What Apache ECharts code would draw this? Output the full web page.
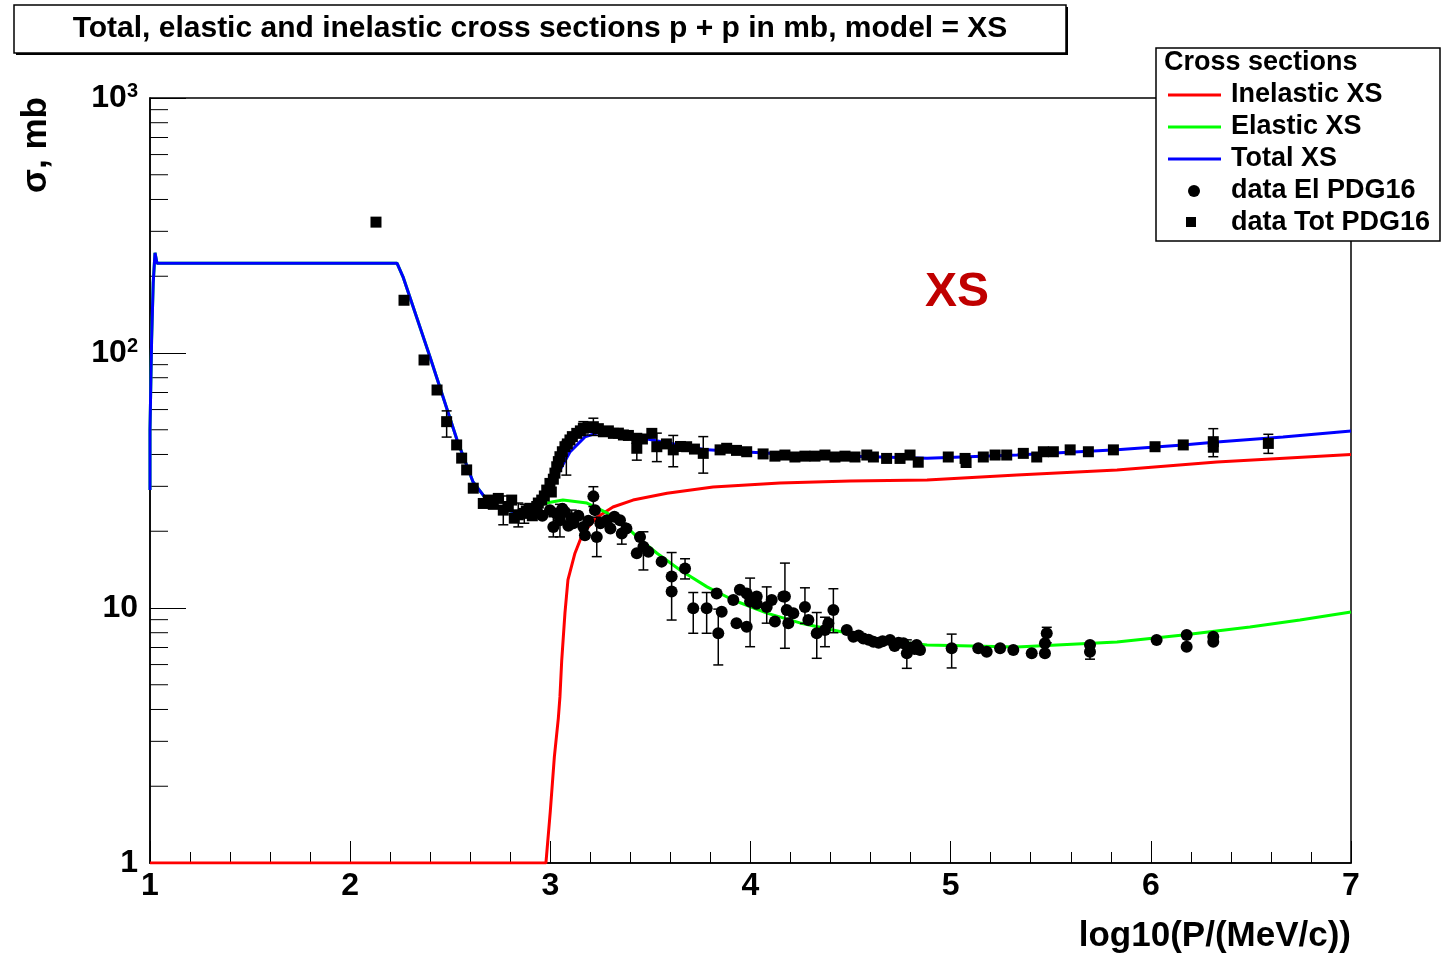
<!DOCTYPE html>
<html><head><meta charset="utf-8">
<script src="https://cdn.jsdelivr.net/npm/echarts@6/dist/echarts.min.js"></script>
<style>html,body{margin:0;padding:0;background:#fff}#c{width:1445px;height:959px}</style>
</head><body><div id="c"></div>
<script>
// ---- tick definitions ----
const xTicks = [1, 2, 3, 4, 5, 6, 7];
const yTickLabels = {1: '1', 10: '10', 100: '10{sup|2}', 1000: '10{sup|3}'};
const yMinorTicks = [2,3,4,5,6,7,8,9,20,30,40,50,60,70,80,90,200,300,400,500,600,700,800,900];

// ---- model curves [log10(P), sigma mb] ----
const inelasticXS = [[1,1],[2.978,1],[3.0,1.6],[3.02,2.6],[3.04,3.7],[3.048,4.48],[3.057,6.25],[3.073,9.55],[3.088,12.9],[3.123,16.4],[3.163,19.7],[3.233,22.7],[3.313,24.9],[3.413,26.5],[3.583,28.2],[3.813,29.8],[4.147,30.9],[4.497,31.5],[4.882,31.8],[5.331,33.2],[5.831,34.8],[6.330,37.4],[7.0,40.0]];
const elasticXS = [[1.0,29],[1.0,50],[1.008,50],[1.008,112],[1.013,112],[1.016,188],[1.025,247],[1.035,225],[2.234,225],[2.264,199],[2.399,96.5],[2.534,45.6],[2.614,31.2],[2.684,26.5],[2.749,24.6],[2.848,23.5],[2.948,25.3],[3.0,26.0],[3.063,26.5],[3.183,25.8],[3.283,23.6],[3.363,21.5],[3.433,19.0],[3.533,16.4],[3.648,14.1],[3.783,12.1],[3.913,10.75],[4.082,9.55],[4.247,8.74],[4.482,7.98],[4.647,7.49],[4.882,7.16],[5.331,7.03],[5.831,7.36],[6.161,7.84],[6.495,8.42],[6.745,8.97],[7.0,9.64]];
const totalXS = [[1.0,29],[1.0,50],[1.008,50],[1.008,112],[1.013,112],[1.016,188],[1.025,247],[1.035,225],[2.234,225],[2.264,199],[2.399,96.5],[2.534,45.6],[2.614,31.2],[2.684,26.5],[2.749,24.6],[2.848,23.5],[2.948,25.3],[2.998,29.0],[3.048,34.8],[3.098,40.9],[3.173,46.9],[3.248,49.0],[3.348,48.3],[3.548,45.0],[3.783,41.7],[3.983,40.9],[4.247,39.8],[4.647,39.1],[4.882,38.7],[5.331,39.8],[5.831,41.7],[6.161,43.6],[6.330,44.8],[6.660,46.8],[7.0,49.4]];

// ---- PDG16 data points ----
const dataTotPDG16 = [[2.129,326],[2.269,161],[2.369,93.9],[2.434,71.6],[2.482,53.8],[2.532,43.6],[2.557,38.7],[2.582,34.8],[2.615,29.5],[2.665,25.7],[2.690,26.5],[2.715,25.5],[2.740,26.9],[2.765,24.2],[2.790,25.0],[2.807,26.5],[2.820,22.5],[2.840,23.2],[2.865,23.5],[2.880,24.0],[2.898,24.6],[2.910,23.0],[2.932,25.0],[2.940,25.8],[2.957,26.5],[2.970,27.5],[2.982,29.0],[2.998,30.8],[3.005,28.5],[3.015,32.0],[3.023,33.8],[3.032,35.8],[3.040,37.5],[3.048,39.2],[3.060,41.0],[3.073,42.9],[3.085,44.0],[3.098,45.6],[3.110,47.0],[3.132,48.4],[3.150,49.5],[3.165,50.7],[3.190,51.0],[3.215,51.4],[3.240,50.5],[3.265,49.1],[3.290,49.5],[3.315,48.4],[3.340,48.5],[3.365,47.7],[3.390,47.5],[3.432,46.3],[3.432,42.3],[3.460,46.0],[3.507,48.4],[3.532,42.9],[3.580,44.0],[3.614,41.7],[3.650,43.0],[3.681,42.9],[3.720,42.0],[3.764,40.4],[3.848,41.7],[3.881,42.3],[3.930,41.5],[3.981,41.0],[4.063,40.2],[4.122,39.4],[4.172,39.8],[4.222,39.1],[4.272,39.4],[4.322,39.4],[4.372,39.8],[4.422,39.1],[4.472,39.4],[4.522,39.1],[4.581,39.8],[4.614,39.1],[4.680,38.6],[4.747,38.6],[4.797,39.8],[4.838,37.3],[4.988,39.1],[5.072,38.6],[5.077,37.2],[5.163,39.1],[5.222,39.8],[5.280,39.8],[5.363,40.4],[5.430,39.1],[5.463,41.0],[5.513,41.0],[5.597,41.7],[5.688,41.0],[5.813,41.7],[6.021,42.9],[6.162,43.6],[6.312,44.9],[6.312,42.7],[6.587,44.2]];
const dataTotErr = [[2.482,46.8,59.3],[2.765,21.2,27.5],[2.840,20.8,25.8],[2.870,21.5,25.5],[3.080,33.2,45.0],[3.165,47.7,53.8],[3.215,47.5,55.5],[3.432,38.0,46.5],[3.532,37.5,48.5],[3.614,35.8,47.5],[3.764,33.8,47.0],[6.312,39.2,50.5],[6.587,40.4,48.0]];

const dataElPDG16 = [[2.932,24.2],[2.960,23.0],[2.998,24.2],[3.015,20.8],[3.030,23.5],[3.048,22.1],[3.060,24.5],[3.073,23.8],[3.090,21.0],[3.107,22.5],[3.115,21.5],[3.140,23.0],[3.165,20.8],[3.173,19.3],[3.190,22.0],[3.215,27.4],[3.223,24.2],[3.232,19.0],[3.250,21.5],[3.282,22.1],[3.300,20.5],[3.320,22.8],[3.348,22.1],[3.357,19.6],[3.380,20.5],[3.432,16.4],[3.448,19.0],[3.465,17.4],[3.490,16.6],[3.556,15.2],[3.606,13.3],[3.606,11.6],[3.673,14.3],[3.714,9.97],[3.781,9.97],[3.831,11.4],[3.839,7.96],[3.856,9.67],[3.914,10.75],[3.930,8.71],[3.947,11.8],[3.981,11.4],[3.981,8.44],[3.998,10.6],[4.031,11.1],[4.031,10.4],[4.081,10.1],[4.106,10.75],[4.122,8.86],[4.164,11.1],[4.172,11.1],[4.181,9.82],[4.189,8.71],[4.214,9.53],[4.272,10.1],[4.289,8.97],[4.331,7.96],[4.372,8.2],[4.389,8.71],[4.414,9.82],[4.481,8.20],[4.514,7.72],[4.540,7.8],[4.564,7.60],[4.590,7.5],[4.614,7.38],[4.640,7.3],[4.660,7.4],[4.697,7.49],[4.720,7.1],[4.740,7.3],[4.764,7.27],[4.781,6.64],[4.800,7.0],[4.820,6.9],[4.830,7.16],[4.847,6.84],[5.005,6.95],[5.138,6.95],[5.180,6.74],[5.247,6.95],[5.313,6.84],[5.405,6.64],[5.471,7.27],[5.471,6.64],[5.480,7.96],[5.696,7.16],[5.696,6.74],[6.029,7.49],[6.179,7.84],[6.179,7.05],[6.312,7.72],[6.312,7.38]];
const dataElErr = [[3.015,19.0,22.8],[3.048,19.0,25.5],[3.107,20.8,24.2],[3.215,25.0,29.9],[3.232,15.9,22.7],[3.357,17.8,21.5],[3.465,14.1,19.9],[3.606,8.97,16.5],[3.673,13.0,15.6],[3.714,7.96,11.5],[3.781,7.96,11.5],[3.839,5.98,9.9],[3.998,7.05,13.1],[4.081,8.72,12.1],[4.172,6.95,15.0],[4.272,8.7,12.0],[4.331,6.35,9.6],[4.372,7.05,9.2],[4.414,8.0,11.9],[4.781,5.80,7.5],[5.005,5.82,7.90],[5.480,7.3,8.4],[5.696,6.3,7.2]];

const FONT = '"Liberation Sans", Arial, Helvetica, sans-serif';

function errBars(params, api) {
  const x = api.value(0), lo = api.value(1), hi = api.value(2);
  const p1 = api.coord([x, lo]), p2 = api.coord([x, hi]);
  const cw = 5, st = {stroke: '#000', lineWidth: 1.5};
  return {type: 'group', children: [
    {type: 'line', shape: {x1: p1[0], y1: p1[1], x2: p2[0], y2: p2[1]}, style: st},
    {type: 'line', shape: {x1: p1[0]-cw, y1: p1[1], x2: p1[0]+cw, y2: p1[1]}, style: st},
    {type: 'line', shape: {x1: p2[0]-cw, y1: p2[1], x2: p2[0]+cw, y2: p2[1]}, style: st}
  ]};
}
function yMinor(params, api) {
  const p = api.coord([xTicks[0], api.value(1)]);
  return {type: 'line', shape: {x1: p[0], y1: p[1], x2: p[0]+18, y2: p[1]}, style: {stroke: '#000', lineWidth: 1}};
}

const chart = echarts.init(document.getElementById('c'), null, {renderer: 'canvas'});
chart.setOption({
  animation: false,
  backgroundColor: '#fff',
  grid: {left: 150, top: 98, width: 1201, height: 765, show: true, borderColor: '#000', borderWidth: 1.5, backgroundColor: 'transparent'},
  xAxis: {
    type: 'value', min: xTicks[0], max: xTicks[xTicks.length-1], interval: 1,
    axisLine: {show: true, lineStyle: {color: '#000', width: 1.5}},
    axisTick: {show: true, inside: true, length: 22, lineStyle: {color: '#000', width: 1}},
    minorTick: {show: true, splitNumber: 5, length: 11, lineStyle: {color: '#000', width: 1}},
    splitLine: {show: false},
    axisLabel: {color: '#000', fontFamily: FONT, fontWeight: 'bold', fontSize: 32, margin: 7}
  },
  yAxis: {
    type: 'log', logBase: 10, min: 1, max: 1000,
    axisLine: {show: true, lineStyle: {color: '#000', width: 1.5}},
    axisTick: {show: true, inside: true, length: 36, lineStyle: {color: '#000', width: 1}},
    splitLine: {show: false},
    axisLabel: {color: '#000', fontFamily: FONT, fontWeight: 'bold', fontSize: 32, margin: 12,
      formatter: v => yTickLabels[Math.round(v)] || '',
      rich: {sup: {fontFamily: FONT, fontWeight: 'bold', fontSize: 20, color: '#000', verticalAlign: 'top', padding: [0, 0, 14, 0]}}}
  },
  series: [
    {type: 'custom', name: 'yMinor', data: yMinorTicks.map(v => [xTicks[0], v]), renderItem: yMinor, silent: true, z: 1, clip: false},
    {type: 'line', name: 'Inelastic XS', data: inelasticXS, showSymbol: false, symbol: 'none', lineStyle: {color: '#ff0000', width: 3}, z: 3},
    {type: 'line', name: 'Elastic XS', data: elasticXS, showSymbol: false, symbol: 'none', lineStyle: {color: '#00ff00', width: 3}, z: 4},
    {type: 'line', name: 'Total XS', data: totalXS, showSymbol: false, symbol: 'none', lineStyle: {color: '#0000ff', width: 3}, z: 5},
    {type: 'custom', name: 'errEl', data: dataElErr, renderItem: errBars, encode: {x: 0, y: [1, 2]}, z: 6},
    {type: 'custom', name: 'errTot', data: dataTotErr, renderItem: errBars, encode: {x: 0, y: [1, 2]}, z: 6},
    {type: 'scatter', name: 'data El PDG16', data: dataElPDG16, symbol: 'circle', symbolSize: 12, itemStyle: {color: '#000', opacity: 1}, z: 7},
    {type: 'scatter', name: 'data Tot PDG16', data: dataTotPDG16, symbol: 'rect', symbolSize: 11, itemStyle: {color: '#000', opacity: 1}, z: 7}
  ],
  graphic: [
    // title box
    {type: 'rect', z: 100, shape: {x: 16, y: 7, width: 1052, height: 48}, style: {fill: '#000'}},
    {type: 'rect', z: 101, shape: {x: 14, y: 5, width: 1052, height: 48}, style: {fill: '#fff', stroke: '#000', lineWidth: 1.5}},
    {type: 'text', z: 102, x: 540, y: 29, style: {text: 'Total, elastic and inelastic cross sections p + p in mb, model = XS', font: 'bold 30px ' + FONT, fill: '#000', align: 'center', verticalAlign: 'middle'}},
    // legend box
    {type: 'rect', z: 100, shape: {x: 1156, y: 48, width: 284, height: 193}, style: {fill: '#fff', stroke: '#000', lineWidth: 1.5}},
    {type: 'text', z: 101, x: 1164, y: 63, style: {text: 'Cross sections', font: 'bold 27px ' + FONT, fill: '#000', align: 'left', verticalAlign: 'middle'}},
    {type: 'line', z: 101, shape: {x1: 1168, y1: 95, x2: 1221, y2: 95}, style: {stroke: '#ff0000', lineWidth: 3}},
    {type: 'line', z: 101, shape: {x1: 1168, y1: 127, x2: 1221, y2: 127}, style: {stroke: '#00ff00', lineWidth: 3}},
    {type: 'line', z: 101, shape: {x1: 1168, y1: 159, x2: 1221, y2: 159}, style: {stroke: '#0000ff', lineWidth: 3}},
    {type: 'circle', z: 101, shape: {cx: 1194, cy: 191, r: 6}, style: {fill: '#000'}},
    {type: 'rect', z: 101, shape: {x: 1186, y: 217, width: 10, height: 10}, style: {fill: '#000'}},
    {type: 'text', z: 101, x: 1231, y: 95, style: {text: 'Inelastic XS', font: 'bold 27px ' + FONT, fill: '#000', verticalAlign: 'middle'}},
    {type: 'text', z: 101, x: 1231, y: 127, style: {text: 'Elastic XS', font: 'bold 27px ' + FONT, fill: '#000', verticalAlign: 'middle'}},
    {type: 'text', z: 101, x: 1231, y: 159, style: {text: 'Total XS', font: 'bold 27px ' + FONT, fill: '#000', verticalAlign: 'middle'}},
    {type: 'text', z: 101, x: 1231, y: 191, style: {text: 'data El PDG16', font: 'bold 27px ' + FONT, fill: '#000', verticalAlign: 'middle'}},
    {type: 'text', z: 101, x: 1231, y: 223, style: {text: 'data Tot PDG16', font: 'bold 27px ' + FONT, fill: '#000', verticalAlign: 'middle'}},
    // model label
    {type: 'text', z: 101, x: 957, y: 293, style: {text: 'XS', font: 'bold 48px ' + FONT, fill: '#c00000', align: 'center', verticalAlign: 'middle'}},
    // axis titles
    {type: 'text', z: 101, x: 1351, y: 936, style: {text: 'log10(P/(MeV/c))', font: 'bold 35px ' + FONT, fill: '#000', align: 'right', verticalAlign: 'middle'}},
    {type: 'text', z: 101, x: 36, y: 97, rotation: Math.PI / 2, style: {text: 'σ, mb', font: 'bold 35px ' + FONT, fill: '#000', align: 'right', verticalAlign: 'middle'}}
  ]
});
</script></body></html>
